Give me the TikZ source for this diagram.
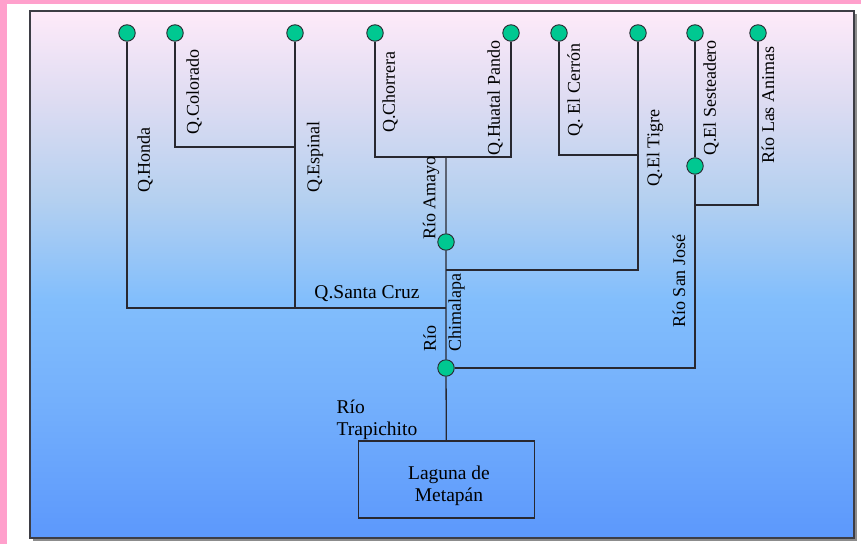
\documentclass[tikz,border=0pt]{standalone}
\usepackage{fontspec}
\setmainfont{Liberation Serif}
\definecolor{pinkframe}{RGB}{255,160,204}
\definecolor{linec}{RGB}{40,40,48}
\definecolor{dotc}{RGB}{0,200,145}
\definecolor{gTop}{RGB}{254,234,249}
\definecolor{gA}{RGB}{222,220,242}
\definecolor{gB}{RGB}{180,208,240}
\definecolor{gC}{RGB}{130,190,252}
\definecolor{gD}{RGB}{116,176,252}
\definecolor{gBot}{RGB}{92,152,252}
% vertical sky gradient; TikZ fits the central 25bp..75bp band to the path
\pgfdeclareverticalshading{basin}{100bp}{%
  color(0bp)=(gBot); color(25bp)=(gBot); color(38.1bp)=(gD);
  color(47.6bp)=(gC); color(57.1bp)=(gB); color(66.6bp)=(gA);
  color(75bp)=(gTop); color(100bp)=(gTop)}
\tikzset{
  dot/.style={circle, draw=linec, line width=0.9pt, fill=dotc,
    minimum size=16.5pt, inner sep=0pt},
  river/.style={draw=linec, line width=1.3pt},
  vlabel/.style={rotate=90, font=\fontsize{18}{25}\selectfont, inner sep=0pt},
  hlabel/.style={font=\fontsize{19.5}{22}\selectfont, inner sep=0pt},
  lake/.style={draw=linec, line width=1.4pt, rectangle,
    minimum width=176pt, minimum height=77pt, inner sep=0pt}
}
\begin{document}
\begin{tikzpicture}[x=1pt, y=-1pt]
\useasboundingbox (0,0) rectangle (861,544);
% page and coloured margin
\fill[white] (0,0) rectangle (861,544);
\fill[pinkframe] (0,0) rectangle (7,544);
\fill[pinkframe] (0,0) rectangle (861,4);
% basin panel with its shadow
\fill[black!45] (33,14) rectangle (857,541);
\shade[shading=basin] (30,11) rectangle (854,538);
\draw[linec!90, line width=1.6pt] (30,11) rectangle (854,538);

% sources and confluences
\node[dot] (honda)    at (127,33) {};
\node[dot] (colorado) at (175,33) {};
\node[dot] (espinal)  at (295,33) {};
\node[dot] (chorrera) at (375,33) {};
\node[dot] (huatal)   at (511,33) {};
\node[dot] (cerron)   at (559,33) {};
\node[dot] (tigre)    at (638,33) {};
\node[dot] (sestA)    at (695,33) {};
\node[dot] (animas)   at (758,33) {};
\node[dot] (sestB)    at (695,166) {};
\node[dot] (amayo)    at (446,242) {};
\node[dot] (chim)     at (446,368) {};
\node[lake] (lago)    at (446.5,479.5) {};

% junction points on the main stems
\coordinate (jColorado) at (295,147);
\coordinate (jAmayo)    at (446,157);
\coordinate (jTigre)    at (446,270);
\coordinate (jSanta)    at (446,308);
\coordinate (jCerron)   at (638,155);
\coordinate (jAnimas)   at (695,205);

% streams
\draw[river] (honda) |- (jSanta);
\draw[river] (colorado) |- (jColorado);
\draw[river] (espinal) -- (espinal |- jSanta);
\draw[river] (chorrera) |- (huatal |- jAmayo) -- (huatal);
\draw[river] (jAmayo) -- (amayo) -- (chim) -- (lago);
\draw[river] (cerron) |- (jCerron);
\draw[river] (tigre) |- (jTigre);
\draw[river] (sestA) -- (sestB) -- (sestB |- chim) -- (chim);
\draw[river] (animas) |- (jAnimas);

% names of the streams
\node[vlabel] (lHonda)    at (145,160) {Q.Honda};
\node[vlabel] (lColorado) at (194,92)  {Q.Colorado};
\node[vlabel] (lEspinal)  at (315,157) {Q.Espinal};
\node[vlabel] (lChorrera) at (390,92)  {Q.Chorrera};
\node[vlabel] (lHuatal)   at (495,98)  {Q.Huatal Pando};
\node[vlabel] (lAmayo)    at (431,198) {Río Amayo};
\node[vlabel] (lCerron)   at (575,90)  {Q. El Cerrón};
\node[vlabel] (lTigre)    at (655,148) {Q.El Tigre};
\node[vlabel] (lSest)     at (711,98)  {Q.El Sesteadero};
\node[vlabel] (lAnimas)   at (768,105) {Río Las Animas};
\node[vlabel] (lSanJose)  at (679,281) {Río San José};
\node[vlabel, align=left] (lChim) at (444,313) {Río\\Chimalapa};
\node[hlabel] (lSanta)    at (367,294) {Q.Santa Cruz};
\node[hlabel, align=left] (lTrap) at (377,420) {Río\\Trapichito};
\node[hlabel, align=center] (lLago) at (449,486) {Laguna de\\Metapán};
\end{tikzpicture}
\end{document}
